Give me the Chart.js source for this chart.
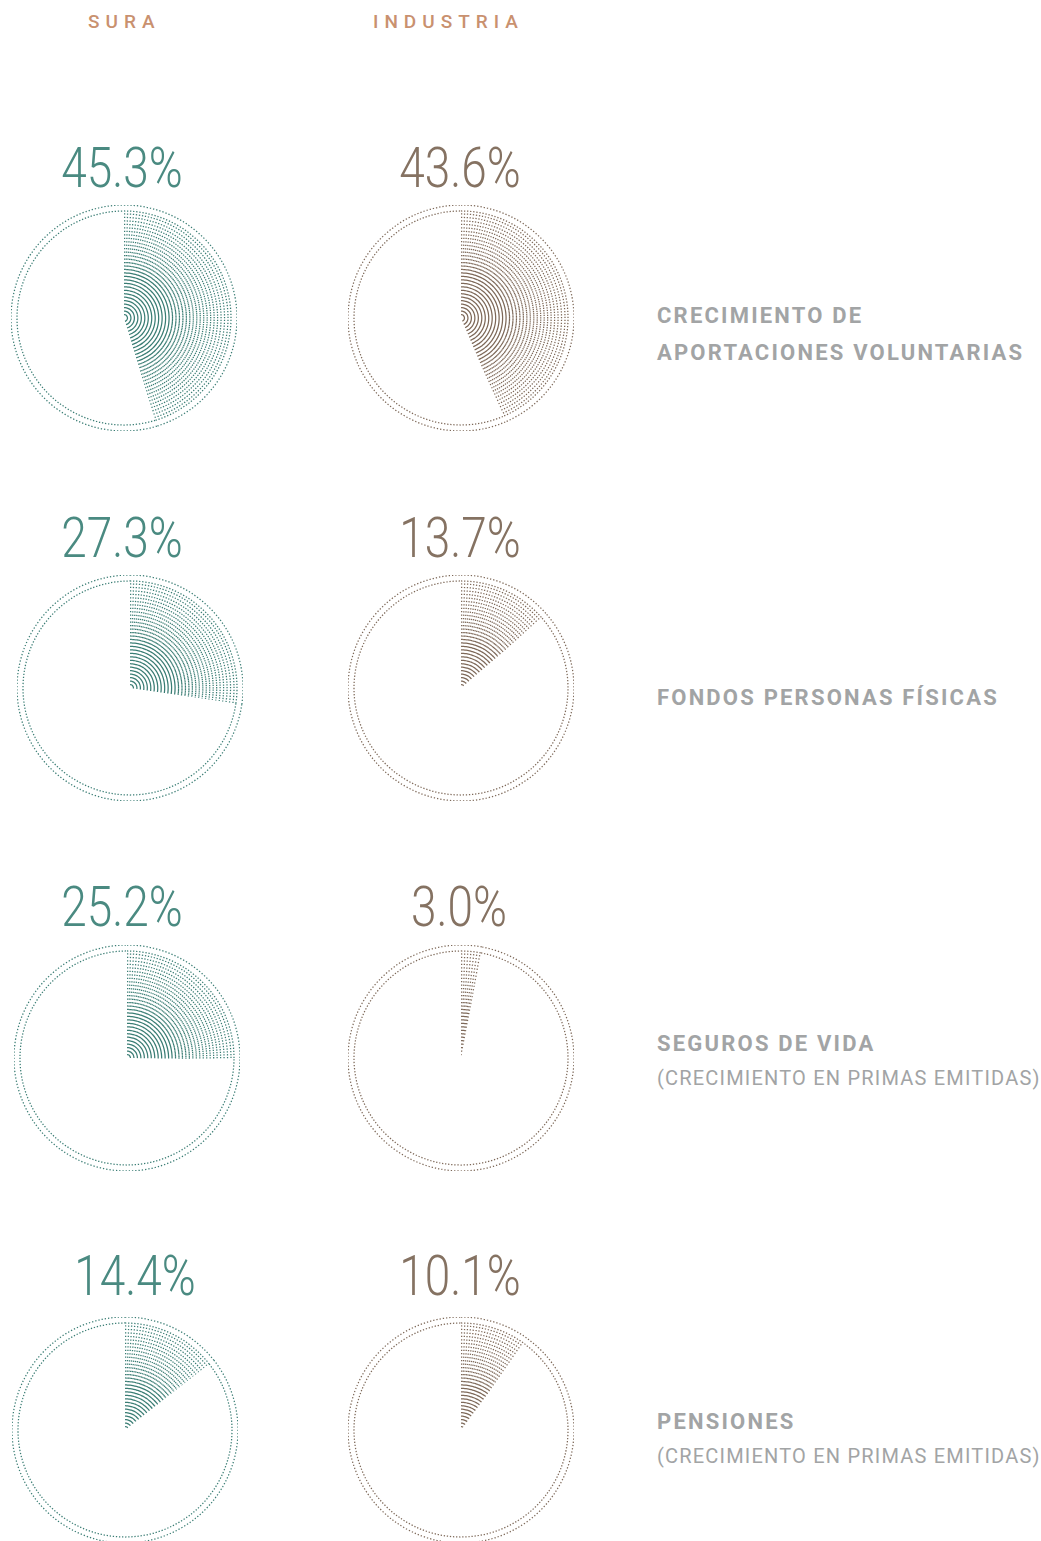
<!DOCTYPE html>
<html lang="es">
<head>
<meta charset="UTF-8">
<title>SURA vs Industria</title>
<script src="https://cdn.jsdelivr.net/npm/chart.js"></script>
<style>
  body { margin: 0; background: #fff; font-family: Roboto, "Open Sans", sans-serif; }
  #lienzo { position: relative; width: 1041px; height: 1541px; overflow: hidden; }
  .pie { position: absolute; width: 226px; height: 226px; }
  .serie { position: absolute; font-size: 19px; font-weight: 500; letter-spacing: 6px; color: #c9916f; line-height: 1; }
  .pct { position: absolute; font-size: 56px; font-weight: 300; line-height: 1; white-space: nowrap;
         transform: translateX(-50%) scaleX(0.82); transform-origin: center; }
  .cat { position: absolute; left: 657px; color: #a2a4a5; white-space: nowrap; }
  .cat b { display: block; font-size: 22px; font-weight: 700; letter-spacing: 2.2px; line-height: 37px; }
  .cat span { display: block; font-size: 20px; font-weight: 400; letter-spacing: 1.2px; line-height: 33px; }
</style>
</head>
<body>
<div id="lienzo"></div>
<script>
// datos
const series = ['SURA', 'INDUSTRIA'];
const categorias = [
  ['CRECIMIENTO DE', 'APORTACIONES VOLUNTARIAS'],
  ['FONDOS PERSONAS FÍSICAS'],
  ['SEGUROS DE VIDA'],
  ['PENSIONES']
];
const subtitulos = ['', '', '(CRECIMIENTO EN PRIMAS EMITIDAS)', '(CRECIMIENTO EN PRIMAS EMITIDAS)'];
const valoresSura = [45.3, 27.3, 25.2, 14.4];
const valoresIndustria = [43.6, 13.7, 3.0, 10.1];

// estilo y posiciones
const colores = ['#3a7d74', '#7d6858'];
const coloresTexto = ['#4a8a81', '#857262'];
const centrosX = [[124, 461], [130, 461], [127, 461], [125, 461]];
const centrosY = [318, 688, 1058, 1430];
const pctX = [[122, 460], [122, 460], [122, 459], [135, 460]];
const pctTop = [140, 510, 879, 1248];
const catTop = [297, 679, 1025, 1403];
const serieX = [88, 373];
const numAnillos = 30;

// puntos de tamano fijo con separacion angular fija: se juntan hacia el centro
const anillosPunteados = {
  id: 'anillosPunteados',
  afterDatasetsDraw(chart) {
    const ctx = chart.ctx;
    ctx.save();
    chart.data.datasets.forEach((ds, i) => {
      const meta = chart.getDatasetMeta(i);
      meta.data.forEach((arc, j) => {
        if (!ds.trazo[j]) return;
        const p = arc.getProps(['x', 'y', 'startAngle', 'endAngle', 'outerRadius']);
        const punto = 1.3;
        const periodo = 3 * p.outerRadius / 104;
        ctx.setLineDash([punto, Math.max(periodo - punto, 0)]);
        ctx.beginPath();
        ctx.strokeStyle = ds.color;
        ctx.lineWidth = 1.25;
        ctx.arc(p.x, p.y, p.outerRadius, p.startAngle, p.endAngle);
        ctx.stroke();
      });
    });
    ctx.restore();
  }
};

const lienzo = document.getElementById('lienzo');

function texto(clase, html, estilos) {
  const d = document.createElement('div');
  d.className = clase;
  d.innerHTML = html;
  Object.assign(d.style, estilos);
  lienzo.appendChild(d);
  return d;
}

series.forEach((s, k) => texto('serie', s, { left: serieX[k] + 'px', top: '12px' }));

function pie(valor, color, cx, cy) {
  const caja = document.createElement('div');
  caja.className = 'pie';
  caja.style.left = (cx - 113) + 'px';
  caja.style.top = (cy - 113) + 'px';
  const canvas = document.createElement('canvas');
  caja.appendChild(canvas);
  lienzo.appendChild(caja);

  const datasets = [];
  // dos anillos exteriores completos
  datasets.push({ data: [valor, 100 - valor], weight: 6, trazo: [true, true], color: color });
  datasets.push({ data: [valor, 100 - valor], weight: 3, trazo: [true, true], color: color });
  // anillos concentricos del sector
  for (let r = 0; r < numAnillos; r++) {
    datasets.push({ data: [valor, 100 - valor], weight: 3.47, trazo: [true, false], color: color });
  }
  datasets.forEach(d => {
    d.backgroundColor = 'rgba(0,0,0,0)';
    d.borderWidth = 0;
    d.hoverOffset = 0;
    d.offset = 0;
  });

  new Chart(canvas, {
    type: 'doughnut',
    data: { labels: ['valor', 'resto'], datasets: datasets },
    options: {
      responsive: true,
      maintainAspectRatio: false,
      animation: false,
      cutout: 0,
      layout: { padding: 0 },
      events: [],
      plugins: { legend: { display: false }, tooltip: { enabled: false } }
    },
    plugins: [anillosPunteados]
  });
}

categorias.forEach((cat, i) => {
  const vals = [valoresSura[i], valoresIndustria[i]];
  vals.forEach((v, k) => {
    pie(v, colores[k], centrosX[i][k], centrosY[i]);
    texto('pct', v.toFixed(1) + '%', { left: pctX[i][k] + 'px', top: pctTop[i] + 'px', color: coloresTexto[k] });
  });
  let html = cat.map(l => '<b>' + l + '</b>').join('');
  if (subtitulos[i]) html += '<span>' + subtitulos[i] + '</span>';
  texto('cat', html, { top: catTop[i] + 'px' });
});
</script>
</body>
</html>
